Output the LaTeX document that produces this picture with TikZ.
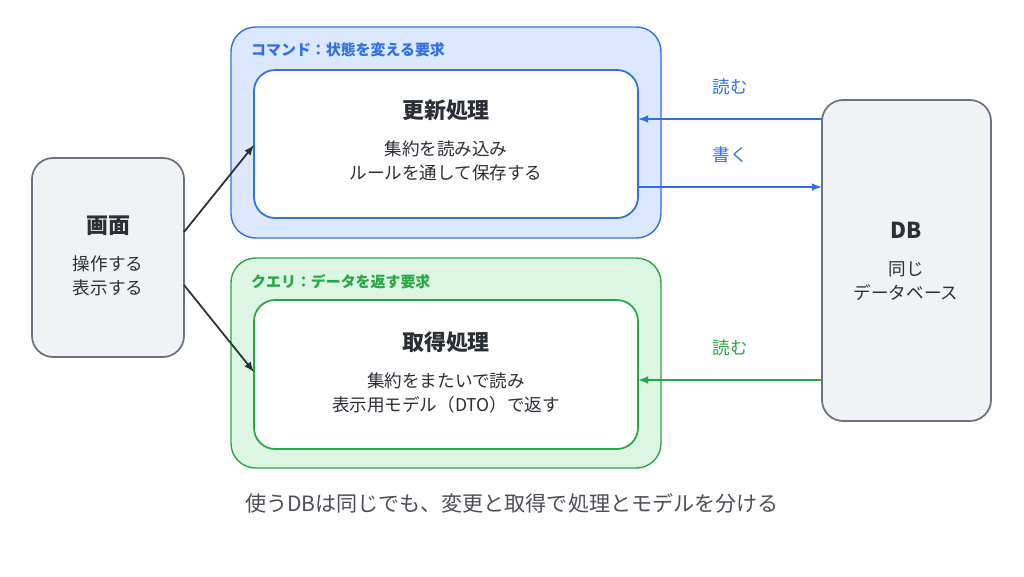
\documentclass[tikz,border=0pt]{standalone}
\usepackage{fontspec}
\setmainfont{Noto Sans CJK JP}
\usetikzlibrary{positioning}
\definecolor{cmdblue}{HTML}{2F6FE8}
\definecolor{cmdfill}{HTML}{DCE8FD}
\definecolor{qrygreen}{HTML}{28A745}
\definecolor{qryfill}{HTML}{DDF6E3}
\definecolor{boxgray}{HTML}{F1F2F5}
\definecolor{edgegray}{HTML}{6B7280}
\definecolor{ink}{HTML}{2B2F36}
\tikzset{
  side/.style={draw=edgegray, fill=boxgray, rounded corners=12pt, line width=1pt},
  group/.style={rounded corners=14pt, line width=0.8pt},
  inner/.style={draw=#1, fill=white, rounded corners=12pt, line width=1pt},
  title/.style={font=\fontsize{12.5}{14}\selectfont\bfseries, text=ink},
  body/.style={font=\fontsize{10}{13.5}\selectfont, text=ink, align=center},
  tag/.style={font=\fontsize{8.5}{10}\selectfont\bfseries, anchor=west},
  flow/.style={-latex, line width=1pt}
}
\begin{document}
\begin{tikzpicture}[x=0.02cm, y=-0.02cm]
  \useasboundingbox (0,0) rectangle (1024,576);

  % Gruppi
  \draw[group, draw=cmdblue, fill=cmdfill] (231,27) rectangle (661,238);
  \node[tag, text=cmdblue] at (245,50) {コマンド：状態を変える要求};
  \draw[group, draw=qrygreen, fill=qryfill] (231,258) rectangle (661,468);
  \node[tag, text=qrygreen] at (245,282) {クエリ：データを返す要求};

  % Scatole
  \draw[side] (32,158) rectangle (184,357);
  \node[title] at (108,226) {画面};
  \node[body] at (108,276) {操作する\\表示する};

  \draw[inner=cmdblue] (254,70) rectangle (638,218);
  \node[title] at (446,110) {更新処理};
  \node[body] at (446,161) {集約を読み込み\\ルールを通して保存する};

  \draw[inner=qrygreen] (254,300) rectangle (638,449);
  \node[title] at (446,342) {取得処理};
  \node[body] at (446,393) {集約をまたいで読み\\表示用モデル（DTO）で返す};

  \draw[side] (822,100) rectangle (991,421);
  \node[title] at (906,230) {DB};
  \node[body] at (906,281) {同じ\\データベース};

  % Punti di aggancio
  \coordinate (scrA) at (184,232);
  \coordinate (scrB) at (184,285);
  \coordinate (updIn) at (254,145);
  \coordinate (qryIn) at (254,372);
  \coordinate (dbR) at (822,119);
  \coordinate (updR) at (638,119);
  \coordinate (updW) at (638,187);
  \coordinate (dbW) at (822,187);
  \coordinate (dbQ) at (822,380);
  \coordinate (qryR) at (638,380);

  % Frecce
  \draw[flow, ink] (scrA) -- (updIn);
  \draw[flow, ink] (scrB) -- (qryIn);
  \draw[flow, cmdblue] (dbR) -- node[above=10pt, body, text=cmdblue] {読む} (updR);
  \draw[flow, cmdblue] (updW) -- node[above=10pt, body, text=cmdblue] {書く} (dbW);
  \draw[flow, qrygreen] (dbQ) -- node[above=10pt, body, text=qrygreen] {読む} (qryR);

  \node[font=\fontsize{12}{14}\selectfont, text=ink!85] at (512,503) {使うDBは同じでも、変更と取得で処理とモデルを分ける};
\end{tikzpicture}
\end{document}
